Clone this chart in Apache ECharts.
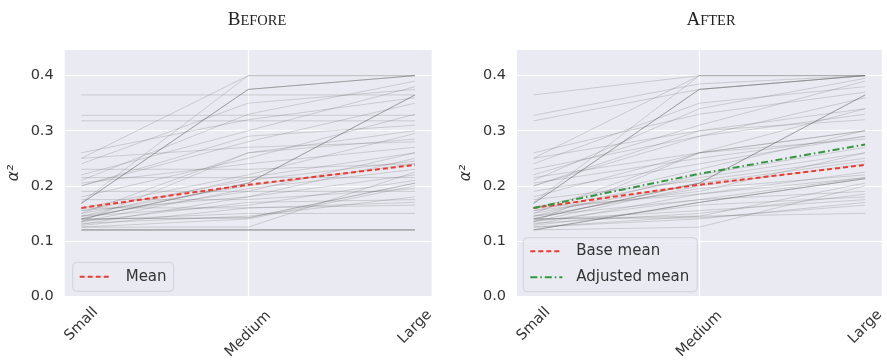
<!DOCTYPE html>
<html><head><meta charset="utf-8">
<script src="https://cdn.jsdelivr.net/npm/echarts@6/dist/echarts.min.js"></script>
<style>html,body{margin:0;padding:0;background:#fff}#c{width:887px;height:362px}</style>
</head><body><div id="c"></div>
<script>
const sizes = ['Small', 'Medium', 'Large'];
const yTicks = [0, 0.1, 0.2, 0.3, 0.4];

const beforeSmall  = [0.168,0.168,0.168,0.170,0.250,0.365,0.328,0.318,0.140,0.140,0.140,0.120,0.120,0.120,0.120,0.140,0.140,0.125,0.135,0.150,0.220,0.210,0.240,0.260,0.200,0.180,0.160,0.145,0.155,0.150,0.135,0.130,0.145,0.135,0.128,0.138,0.132,0.215,0.190,0.175,0.160,0.230,0.205,0.145,0.125,0.200,0.250,0.155];
const beforeMedium = [0.375,0.375,0.375,0.400,0.400,0.365,0.328,0.318,0.205,0.205,0.205,0.120,0.120,0.120,0.120,0.142,0.142,0.125,0.260,0.260,0.300,0.330,0.350,0.320,0.280,0.250,0.220,0.215,0.210,0.200,0.195,0.180,0.190,0.170,0.160,0.150,0.145,0.215,0.190,0.175,0.160,0.230,0.240,0.165,0.140,0.290,0.270,0.180];
const beforeLarge  = [0.400,0.400,0.400,0.400,0.400,0.365,0.328,0.318,0.365,0.365,0.365,0.120,0.120,0.120,0.120,0.205,0.205,0.225,0.300,0.285,0.380,0.390,0.375,0.360,0.350,0.330,0.295,0.260,0.245,0.240,0.230,0.220,0.190,0.175,0.165,0.150,0.180,0.215,0.260,0.195,0.170,0.240,0.270,0.210,0.200,0.310,0.280,0.250];

const afterSmall   = [0.168,0.168,0.168,0.170,0.250,0.365,0.328,0.318,0.140,0.140,0.140,0.120,0.120,0.120,0.120,0.140,0.140,0.125,0.135,0.150,0.220,0.210,0.240,0.260,0.200,0.180,0.160,0.145,0.155,0.150,0.135,0.130,0.145,0.135,0.128,0.138,0.132,0.215,0.190,0.175,0.160,0.230,0.205,0.145,0.125,0.200,0.250,0.155];
const afterMedium  = [0.375,0.375,0.375,0.400,0.400,0.400,0.385,0.375,0.205,0.205,0.205,0.170,0.170,0.170,0.125,0.142,0.145,0.140,0.260,0.260,0.310,0.340,0.350,0.330,0.290,0.260,0.230,0.220,0.215,0.205,0.200,0.185,0.195,0.175,0.165,0.155,0.150,0.260,0.240,0.210,0.185,0.290,0.250,0.175,0.145,0.300,0.300,0.190];
const afterLarge   = [0.400,0.400,0.400,0.400,0.400,0.400,0.400,0.400,0.365,0.365,0.365,0.213,0.213,0.213,0.200,0.165,0.150,0.170,0.300,0.285,0.390,0.395,0.380,0.370,0.360,0.340,0.300,0.270,0.260,0.245,0.240,0.225,0.220,0.190,0.180,0.175,0.185,0.300,0.290,0.250,0.215,0.330,0.290,0.215,0.205,0.340,0.320,0.260];

const beforeMean    = [0.160, 0.202, 0.238];
const afterBaseMean = [0.160, 0.202, 0.238];
const afterAdjMean  = [0.160, 0.222, 0.275];

const BG = '#eaeaf2';
const TXT = '#333333';
const FONT = 'DejaVu Sans';
const RED = '#ec3b2f';
const GREEN = '#34973f';

function pts(arr) { return arr.map((v, i) => [i, v]); }

function grayLines(S, M, L, idx) {
  return S.map((s, i) => ({
    type: 'line', xAxisIndex: idx, yAxisIndex: idx,
    data: pts([s, M[i], L[i]]), symbol: 'none', silent: true, z: 2,
    lineStyle: { color: 'rgba(100,100,100,0.24)', width: 1 }
  }));
}

function xAxis(idx) {
  return {
    type: 'value', gridIndex: idx, min: -0.1, max: 2.1,
    axisLine: { show: false },
    axisTick: { show: false, customValues: [0, 1, 2] },
    splitLine: { show: true, showMinLine: false, showMaxLine: false, lineStyle: { color: '#ffffff', width: 1.2 } },
    axisLabel: {
      customValues: [0, 1, 2], rotate: 45, align: 'center', verticalAlign: 'middle', margin: 38,
      color: TXT, fontSize: 14.5, fontFamily: FONT,
      formatter: v => { const i = Math.round(v); return '{' + ['s', 'm', 'l'][i] + '|' + sizes[i] + '}'; },
      rich: {
        s: { fontSize: 14.5, fontFamily: FONT, color: TXT, padding: [0, 0, 14, 14] },
        m: { fontSize: 14.5, fontFamily: FONT, color: TXT },
        l: { fontSize: 14.5, fontFamily: FONT, color: TXT, padding: [0, 0, 10, 10] }
      }
    }
  };
}

function yAxis(idx) {
  return {
    type: 'value', gridIndex: idx, min: yTicks[0], max: 0.4465, interval: 0.1,
    name: 'α²', nameLocation: 'middle', nameGap: 43, nameRotate: 90,
    nameTextStyle: { color: TXT, fontSize: 15.5, fontFamily: FONT, fontStyle: 'italic' },
    axisLine: { show: false }, axisTick: { show: false },
    splitLine: { show: true, showMinLine: false, showMaxLine: false, lineStyle: { color: '#ffffff', width: 1.2 } },
    axisLabel: { showMaxLabel: false, margin: 11, color: TXT, fontSize: 14.5, fontFamily: FONT,
      formatter: v => v.toFixed(1) }
  };
}

const series = [
  ...grayLines(beforeSmall, beforeMedium, beforeLarge, 0),
  ...grayLines(afterSmall, afterMedium, afterLarge, 1),
  { name: 'Mean', type: 'line', xAxisIndex: 0, yAxisIndex: 0, data: pts(beforeMean), symbol: 'none', z: 5,
    color: RED, lineStyle: { color: RED, width: 2, type: [5, 3] } },
  { name: 'Base mean', type: 'line', xAxisIndex: 1, yAxisIndex: 1, data: pts(afterBaseMean), symbol: 'none', z: 5,
    color: RED, lineStyle: { color: RED, width: 2, type: [5, 3] } },
  { name: 'Adjusted mean', type: 'line', xAxisIndex: 1, yAxisIndex: 1, data: pts(afterAdjMean), symbol: 'none', z: 6,
    color: GREEN, lineStyle: { color: GREEN, width: 2, type: [7, 3, 1.5, 3] } }
];

const legendCommon = {
  backgroundColor: 'rgba(234,234,242,0.8)', borderColor: '#d2d2da', borderWidth: 1, borderRadius: 4,
  itemWidth: 32, itemHeight: 14, selectedMode: false, z: 10,
  itemStyle: { opacity: 0 },
  lineStyle: { opacity: 1 },
  textStyle: { color: TXT, fontSize: 15, fontFamily: FONT, padding: [0, 0, 0, 9] }
};

const titleRich = {
  a: { fontSize: 19, fontFamily: 'Liberation Serif', fontWeight: 'normal', color: '#222', verticalAlign: 'bottom' },
  b: { fontSize: 14.5, fontFamily: 'Liberation Serif', fontWeight: 'normal', color: '#222', verticalAlign: 'bottom', padding: [0, 0, 1, 0] }
};

const chart = echarts.init(document.getElementById('c'), null, { renderer: 'canvas' });
chart.setOption({
  animation: false,
  backgroundColor: '#ffffff',
  title: [
    { text: '{a|B}{b|EFORE}', left: 252, top: 6, textAlign: 'center',
      textStyle: { fontWeight: 'normal', rich: titleRich } },
    { text: '{a|A}{b|FTER}', left: 706, top: 6, textAlign: 'center',
      textStyle: { fontWeight: 'normal', rich: titleRich } }
  ],
  grid: [
    { left: 64.7, top: 50, width: 367, height: 249.6, show: true, backgroundColor: BG, borderWidth: 0 },
    { left: 517, top: 50, width: 365, height: 249.6, show: true, backgroundColor: BG, borderWidth: 0 }
  ],
  xAxis: [xAxis(0), xAxis(1)],
  yAxis: [yAxis(0), yAxis(1)],
  legend: [
    Object.assign({}, legendCommon, { data: ['Mean'], left: 72.7, top: 262.3, padding: [7, 7, 7, 6] }),
    Object.assign({}, legendCommon, { data: ['Base mean', 'Adjusted mean'], orient: 'vertical', left: 523.3, top: 237.7, padding: [6, 8, 7, 6], itemGap: 11 })
  ],
  series: series
});
</script></body></html>
